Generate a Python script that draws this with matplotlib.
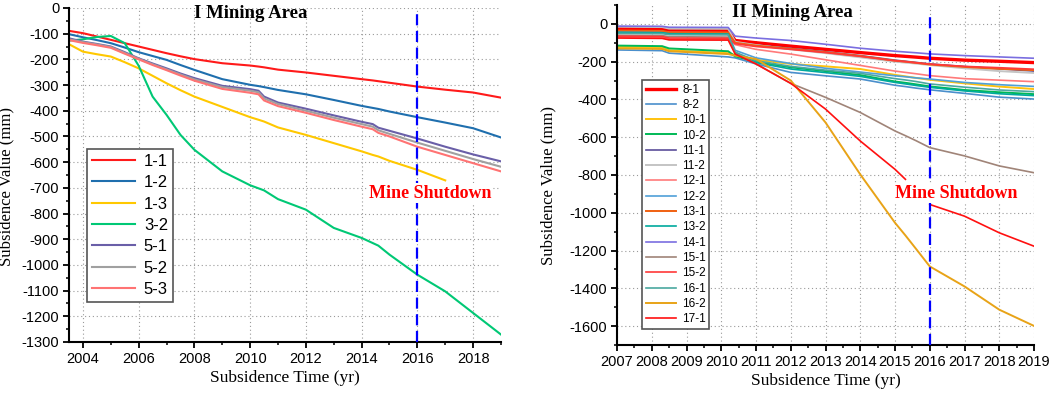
import numpy as np
import matplotlib
matplotlib.use("Agg")
import matplotlib.pyplot as plt
from matplotlib.ticker import MultipleLocator

plt.rcParams['font.family'] = ['Liberation Sans', 'DejaVu Sans']
plt.rcParams['axes.unicode_minus'] = False
nan = np.nan

# ---- I Mining Area ----
yrs_I = [2003.5, 2004, 2004.5, 2005, 2005.5, 2006, 2006.5, 2007, 2007.5, 2008, 2009,
         2010, 2010.3, 2010.5, 2011, 2012, 2013, 2014, 2014.4, 2014.6, 2015, 2016,
         2017, 2018, 2019]
names_I = ["1-1", "1-2", "1-3", "3-2", "5-1", "5-2", "5-3"]
colors_I = ["#FF1A1A", "#1F6FAE", "#FFC800", "#00C875", "#6A5FA8", "#A0A0A0", "#FF7373"]
vals_I = {
    "1-1": [-89, -98, -111, -124, -137, -150, -163, -176, -188, -199, -215, -224, -228, -231,
            -240, -251, -264, -277, -282, -285, -291, -306, -318, -329, -349],
    "1-2": [-102, -114, -125, -137, -154, -172, -187, -202, -222, -241, -277, -299, -304, -308,
            -319, -336, -358, -381, -389, -393, -403, -425, -446, -468, -504],
    "1-3": [-141, -170, -180, -189, -211, -235, -264, -293, -320, -345, -385, -425, -435, -442,
            -465, -494, -526, -558, -572, -578, -595, -630, -671, nan, nan],
    "3-2": [-127, -122, -113, -109, -137, -225, -345, -416, -494, -552, -636, -690, -702, -710,
            -744, -785, -856, -895, -915, -925, -960, -1038, -1103, -1187, -1271],
    "5-1": [-118, -131, -140, -150, -172, -196, -216, -235, -255, -273, -303, -316, -322, -345,
            -368, -392, -418, -443, -452, -466, -478, -508, -540, -570, -597],
    "5-2": [-122, -133, -142, -152, -175, -198, -219, -239, -259, -278, -308, -322, -328, -352,
            -374, -400, -427, -452, -462, -476, -490, -524, -556, -588, -618],
    "5-3": [-125, -136, -145, -155, -178, -200, -222, -242, -263, -283, -315, -330, -336, -360,
            -382, -408, -436, -462, -472, -486, -500, -540, -572, -604, -636],
}

# ---- II Mining Area ----
yrs_II = [2007, 2008.3, 2008.5, 2010.2, 2010.4, 2011, 2012, 2013, 2014, 2015, 2015.3,
          2015.6, 2016, 2017, 2018, 2019]
names_II = ["8-1", "8-2", "10-1", "10-2", "11-1", "11-2", "12-1", "12-2", "13-1", "13-2",
            "14-1", "15-1", "15-2", "16-1", "16-2", "17-1"]
colors_II = ["#FF0000", "#4A8FCC", "#FFC20E", "#00B956", "#5B4E9A", "#C4C4C4", "#FF7A7A",
             "#4FA0D8", "#F06010", "#00A99D", "#7A6EE0", "#A08478", "#FF3838", "#4AA8A0",
             "#E8A317", "#FF1010"]
widths_II = [2.4, 1.2, 1.4, 1.4, 1.2, 1.4, 1.2, 1.2, 1.4, 1.2, 1.2, 1.2, 1.2, 1.2, 1.4, 1.2]
vals_II = {
    "8-1":  [-25, -27, -33, -34, -88, -100, -118, -135, -152, -168, -172, -176, -182, -192, -198, -205],
    "8-2":  [-138, -142, -155, -175, -180, -212, -257, -275, -292, -325, -332, -340, -349, -368, -388, -398],
    "10-1": [-122, -125, -140, -155, -165, -190, -212, -225, -239, -270, -278, -286, -296, -315, -332, -345],
    "10-2": [-115, -118, -130, -145, -172, -200, -230, -250, -271, -305, -312, -320, -331, -350, -362, -372],
    "11-1": [-45, -47, -55, -56, -98, -112, -130, -148, -168, -192, -198, -204, -212, -226, -238, -250],
    "11-2": [-15, -17, -25, -26, -95, -112, -135, -155, -177, -200, -205, -210, -218, -235, -250, -260],
    "12-1": [-70, -72, -80, -82, -110, -135, -160, -190, -220, -250, -257, -264, -274, -290, -298, -306],
    "12-2": [-40, -42, -50, -52, -140, -180, -210, -235, -255, -275, -280, -286, -292, -310, -322, -331],
    "13-1": [-35, -37, -45, -46, -100, -115, -132, -150, -170, -195, -200, -206, -215, -228, -238, -245],
    "13-2": [-45, -47, -52, -54, -155, -205, -239, -258, -278, -310, -318, -326, -336, -355, -370, -380],
    "14-1": [-12, -13, -18, -19, -65, -75, -88, -108, -129, -145, -149, -153, -159, -168, -175, -182],
    "15-1": [-60, -62, -68, -70, -150, -212, -315, -389, -469, -567, -592, -618, -655, -699, -752, -788],
    "15-2": [-65, -67, -75, -76, -105, -120, -135, -152, -172, -195, -200, -206, -213, -225, -232, -240],
    "16-1": [-50, -52, -57, -58, -150, -195, -225, -245, -262, -290, -297, -305, -318, -335, -350, -359],
    "16-2": [-130, -133, -145, -160, -168, -186, -300, -522, -797, -1053, -1120, -1190, -1284, -1390, -1513, -1599],
    "17-1": [-75, -77, -85, -86, -160, -212, -315, -451, -620, -770, -823, nan, -956, -1018, -1106, -1177],
}
shutdown_year = 2016

serif = ['Liberation Serif', 'DejaVu Serif']

fig = plt.figure(figsize=(10.52, 3.95), dpi=100)
ax1 = fig.add_axes([0.0656, 0.1342, 0.4106, 0.8456])
ax2 = fig.add_axes([0.5865, 0.1266, 0.3964, 0.8608])


def style_axes(ax, xmaj, xmin, ymaj, ymin):
    for s in ['top', 'right']:
        ax.spines[s].set_visible(False)
    for s in ['left', 'bottom']:
        ax.spines[s].set_linewidth(1.5)
    ax.xaxis.set_major_locator(MultipleLocator(xmaj))
    ax.xaxis.set_minor_locator(MultipleLocator(xmin))
    ax.yaxis.set_major_locator(MultipleLocator(ymaj))
    ax.yaxis.set_minor_locator(MultipleLocator(ymin))
    ax.tick_params(which='major', direction='out', length=4, width=1.3, labelsize=10.5, pad=3)
    ax.tick_params(which='minor', direction='out', length=2, width=1.1)
    ax.grid(True, which='major', linestyle=(0, (1, 2.5)), color='#9A9A9A', linewidth=0.8)
    ax.set_axisbelow(True)
    ax.set_xlabel("Subsidence Time (yr)", family=serif, fontsize=12.5, labelpad=3)
    ax.set_ylabel("Subsidence Value (mm)", family=serif, fontsize=12)


# left panel
for name, col in zip(names_I, colors_I):
    ax1.plot(yrs_I, vals_I[name], color=col, lw=1.5, label=name)
ax1.set_xlim(2003.5, 2019)
ax1.set_ylim(-1300, 0)
style_axes(ax1, 2, 1, 100, 50)
ax1.yaxis.set_label_coords(-0.126, 0.467)
ax1.axvline(shutdown_year, ymax=0.988, color='#0000FF', lw=1.6, dashes=(5, 2.5), zorder=3)
ax1.text(0.421, 0.983, "I Mining Area", transform=ax1.transAxes, ha='center', va='center',
         family=serif, fontsize=13.5, fontweight='bold')
ax1.text(0.836, 0.446, "Mine Shutdown", transform=ax1.transAxes, ha='center', va='center',
         family=serif, fontsize=13, fontweight='bold', color='#FF0000',
         bbox=dict(facecolor='white', edgecolor='none', pad=1), zorder=4)
leg1 = ax1.legend(loc='upper left', bbox_to_anchor=(0.042, 0.578), borderaxespad=0,
                  fontsize=12, handlelength=2.6, labelspacing=0.38, fancybox=False,
                  framealpha=1, edgecolor='#555555', borderpad=0.3, handletextpad=0.5)
leg1.get_frame().set_linewidth(1.2)

# right panel
for name, col, lw in zip(names_II, colors_II, widths_II):
    ax2.plot(yrs_II, vals_II[name], color=col, lw=lw, label=name)
ax2.set_xlim(2007, 2019)
ax2.set_ylim(-1700, 100)
style_axes(ax2, 1, 0.5, 200, 100)
ax2.yaxis.set_label_coords(-0.146, 0.468)
ax2.axvline(shutdown_year, ymax=0.98, color='#0000FF', lw=1.6, dashes=(5, 2.5), zorder=3)
ax2.text(0.42, 0.978, "II Mining Area", transform=ax2.transAxes, ha='center', va='center',
         family=serif, fontsize=13.5, fontweight='bold')
ax2.text(0.813, 0.447, "Mine Shutdown", transform=ax2.transAxes, ha='center', va='center',
         family=serif, fontsize=13, fontweight='bold', color='#FF0000',
         bbox=dict(facecolor='white', edgecolor='none', pad=1), zorder=4)
leg2 = ax2.legend(loc='upper left', bbox_to_anchor=(0.06, 0.779), borderaxespad=0,
                  fontsize=8.5, handlelength=2.6, labelspacing=0.28, fancybox=False,
                  framealpha=1, edgecolor='#555555', borderpad=0.3, handletextpad=0.5)
leg2.get_frame().set_linewidth(1.2)

fig.savefig("out.png", dpi=100)
